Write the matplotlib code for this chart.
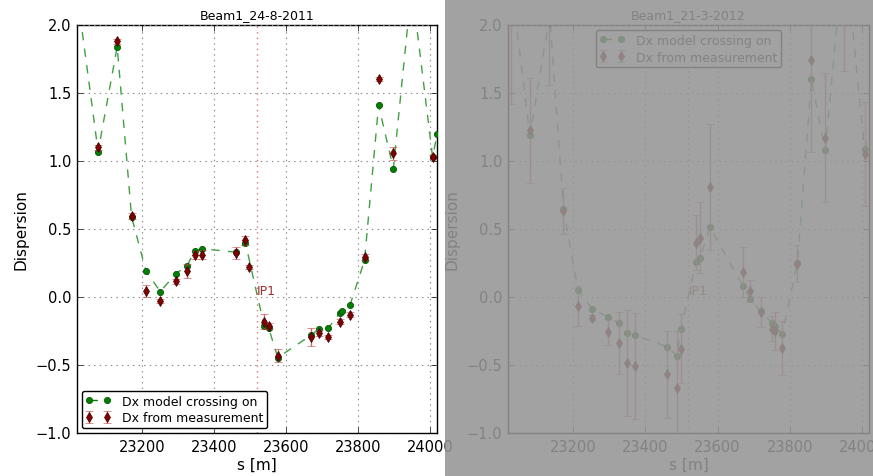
import matplotlib
matplotlib.use("Agg")
import matplotlib.pyplot as plt
from matplotlib.patches import Rectangle
from matplotlib.ticker import MultipleLocator
import numpy as np

plt.style.use('classic')

# IP1 longitudinal position
ip1_s = 23519.36

# Beam1, 24-8-2011
s_model_2011 = [23000, 23078, 23131, 23171, 23211, 23251, 23293, 23325, 23346, 23367,
                23460, 23487, 23539, 23552, 23577, 23670, 23691, 23717, 23749, 23756,
                23778, 23818, 23857, 23898, 23949, 24007, 24020]
dx_model_2011 = [2.63, 1.07, 1.84, 0.59, 0.19, 0.04, 0.17, 0.23, 0.34, 0.355,
                 0.33, 0.40, -0.21, -0.23, -0.445, -0.28, -0.235, -0.23, -0.12, -0.105,
                 -0.057, 0.27, 1.41, 0.945, 2.29, 1.03, 1.2]
s_meas_2011 = [23078, 23131, 23171, 23211, 23251, 23293, 23325, 23346, 23367, 23460,
               23487, 23496, 23539, 23552, 23577, 23670, 23691, 23717, 23749, 23778,
               23818, 23857, 23898, 24007]
dx_meas_2011 = [1.10, 1.88, 0.595, 0.044, -0.032, 0.115, 0.19, 0.306, 0.311, 0.326,
                0.416, 0.221, -0.18, -0.213, -0.43, -0.294, -0.265, -0.294, -0.18, -0.13,
                0.294, 1.603, 1.056, 1.03]
err_meas_2011 = [0.02, 0.02, 0.02, 0.045, 0.015, 0.02, 0.05, 0.03, 0.035, 0.045,
                 0.035, 0.015, 0.055, 0.02, 0.045, 0.066, 0.02, 0.015, 0.02, 0.02,
                 0.02, 0.015, 0.05, 0.015]

# Beam1, 21-3-2012
s_model_2012 = [23000, 23080, 23135, 23173, 23213, 23253, 23295, 23326, 23348, 23370,
                23461, 23488, 23498, 23541, 23552, 23578, 23671, 23691, 23719, 23751,
                23759, 23779, 23821, 23860, 23898, 23951, 24007, 24035]
dx_model_2012 = [2.92, 1.19, 2.07, 0.645, 0.054, -0.088, -0.145, -0.19, -0.262, -0.282,
                 -0.365, -0.437, -0.235, 0.26, 0.285, 0.515, 0.078, -0.015, -0.105, -0.19,
                 -0.21, -0.272, 0.25, 1.6, 1.08, 2.58, 1.088, 1.35]
s_meas_2012 = [23029, 23080, 23133, 23173, 23213, 23253, 23295, 23326, 23348, 23370,
               23461, 23488, 23498, 23541, 23552, 23578, 23671, 23691, 23719, 23751,
               23759, 23779, 23821, 23860, 23898, 23951, 24007]
dx_meas_2012 = [2.25, 1.225, 2.02, 0.632, -0.066, -0.152, -0.257, -0.338, -0.483, -0.51,
                -0.569, -0.667, -0.379, 0.40, 0.436, 0.809, 0.184, 0.044, -0.11, -0.233,
                -0.248, -0.375, 0.245, 1.743, 1.171, 2.3, 1.051]
err_meas_2012 = [0.83, 0.385, 0.46, 0.17, 0.15, 0.022, 0.096, 0.23, 0.39, 0.39,
                 0.32, 0.42, 0.256, 0.2, 0.26, 0.46, 0.186, 0.08, 0.11, 0.09,
                 0.14, 0.2, 0.137, 0.68, 0.475, 0.64, 0.38]


def plot_dispersion(ax, title, s_model, dx_model, s_meas, dx_meas, err_meas, legend_loc):
    ax.plot(s_model, dx_model, '--', color='g', alpha=0.75, lw=1, zorder=2)
    ax.plot(s_model, dx_model, 'o', color='g', mec='#004400', ms=4.5, zorder=3)
    ax.plot([], [], 'o--', color='g', mec='#004400', ms=4.5, label='Dx model crossing on')
    eb = ax.errorbar(s_meas, dx_meas, yerr=err_meas, fmt='d', color='#800000',
                     mec='#400000', ms=5, ecolor='#c04040', elinewidth=1, capsize=3,
                     label='Dx from measurement', zorder=4)
    for part in eb[1] + eb[2]:
        part.set_alpha(0.8)

    ax.axvline(ip1_s, color='#c04040', ls=':', lw=1, alpha=0.7)
    ax.text(ip1_s, 0.0, 'IP1', color='#a03030', fontsize=9, ha='left', va='bottom')

    ax.set_xlim(ip1_s - 500, ip1_s + 500)
    ax.set_ylim(-1, 2)
    ax.xaxis.set_major_locator(MultipleLocator(200))
    ax.yaxis.set_major_locator(MultipleLocator(0.5))
    ax.ticklabel_format(useOffset=False, axis='x')
    ax.tick_params(labelsize=10.5)
    ax.grid(True, color='#888888', ls=':', lw=0.8)
    ax.set_xlabel('s [m]', fontsize=11, labelpad=2)
    ax.set_ylabel('Dispersion', fontsize=11)
    ax.set_title(title, fontsize=9)
    ax.legend(loc=legend_loc, fontsize=9, numpoints=2, fancybox=True,
              borderaxespad=0.4, handletextpad=0.9, handlelength=2.0,
              labelspacing=0.3, borderpad=0.3)


fig = plt.figure(figsize=(8.73, 4.77), dpi=100, facecolor='white')
ax1 = fig.add_axes([0.0882, 0.0901, 0.4124, 0.8553])
ax2 = fig.add_axes([0.5819, 0.0901, 0.4135, 0.8553])

plot_dispersion(ax1, 'Beam1_24-8-2011', s_model_2011, dx_model_2011,
                s_meas_2011, dx_meas_2011, err_meas_2011, 'lower left')
plot_dispersion(ax2, 'Beam1_21-3-2012', s_model_2012, dx_model_2012,
                s_meas_2012, dx_meas_2012, err_meas_2012, 'upper center')

# grey veil over the second panel
fig.add_artist(Rectangle((445 / 873, 0), 1 - 445 / 873, 1, transform=fig.transFigure,
                         facecolor='#959595', edgecolor='none', alpha=0.88, zorder=10))

fig.savefig('out.png', dpi=100, facecolor='white')
